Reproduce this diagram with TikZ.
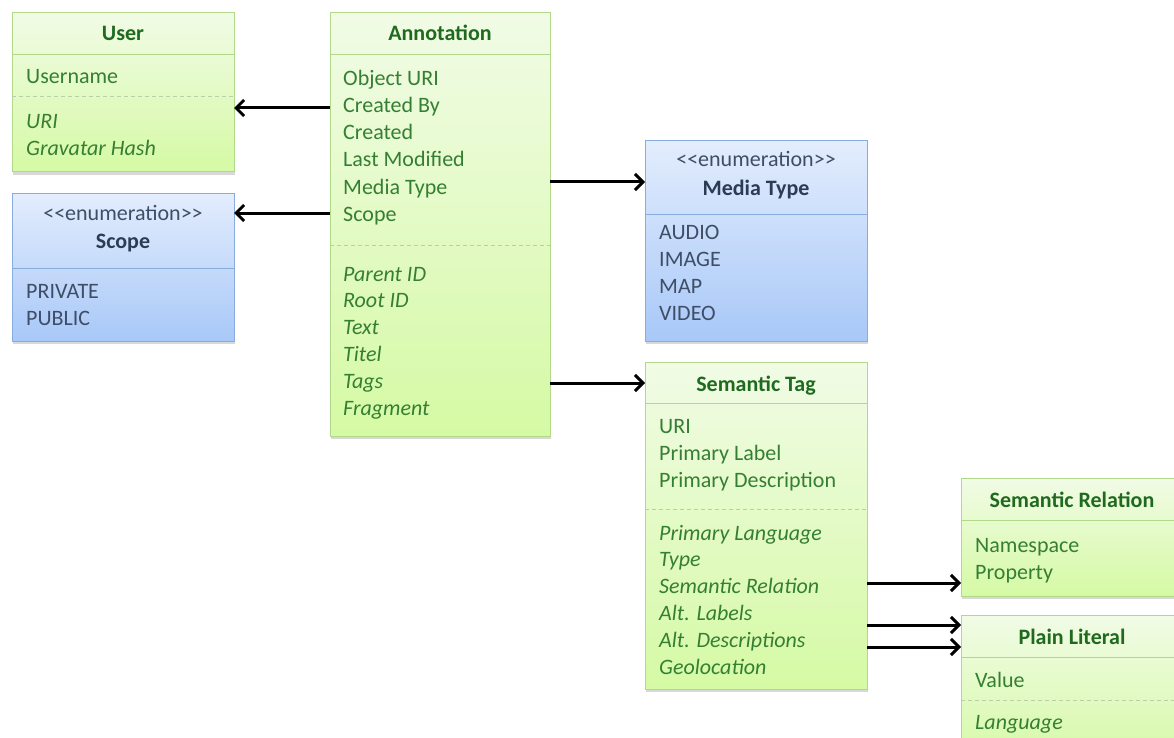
\documentclass[tikz,border=0pt]{standalone}
\usepackage{fontspec}
\setmainfont{Carlito}
\usetikzlibrary{arrows.meta,shadows}

\definecolor{gtop}{HTML}{F1FBE6}
\definecolor{gbot}{HTML}{D5FAA4}
\definecolor{gborder}{HTML}{B2D98A}
\definecolor{gtitle}{HTML}{1F6A1F}
\definecolor{gtext}{HTML}{357F33}
\definecolor{gdash}{HTML}{B9CFA9}
\definecolor{btop}{HTML}{E3EDFD}
\definecolor{bbot}{HTML}{A8C8F8}
\definecolor{bborder}{HTML}{88ACDE}
\definecolor{btitle}{HTML}{2C3C56}
\definecolor{btext}{HTML}{3E4E66}

\tikzset{
  boxbase/.style={anchor=north west, inner sep=0pt, outer sep=0pt, line width=1pt,
    drop shadow={shadow xshift=0.6pt, shadow yshift=-3pt, opacity=0.3, fill=black!50}},
  gbox/.style={boxbase, draw=gborder, top color=gtop, bottom color=gbot},
  bbox/.style={boxbase, draw=bborder, top color=btop, bottom color=bbot},
  txt/.style={inner sep=0pt, anchor=base west, font=\fontsize{22}{27}\selectfont},
  gtitle/.style={txt, anchor=base, text=gtitle, font=\fontsize{22}{27}\selectfont\bfseries},
  gitem/.style={txt, text=gtext},
  gital/.style={txt, text=gtext, font=\fontsize{22}{27}\selectfont\itshape},
  btitle/.style={txt, anchor=base, text=btitle, font=\fontsize{22}{27}\selectfont\bfseries},
  bstereo/.style={txt, anchor=base, text=btext},
  bitem/.style={txt, text=btext},
  gsep/.style={draw=gborder, line width=1pt},
  gdsep/.style={draw=gdash, line width=1pt, dash pattern=on 4pt off 3pt},
  bsep/.style={draw=bborder, line width=1pt},
  conn/.style={line width=3pt, black, -{Straight Barb[length=8pt,width=16pt]}},
}

\begin{document}
\begin{tikzpicture}[x=1pt, y=-1pt]
\clip (0,0) rectangle (1174,738);
\fill[white] (0,0) rectangle (1174,738);

% ---- class boxes ----
\node[gbox, minimum width=222pt, minimum height=159pt] (user) at (12,13) {};
\node[bbox, minimum width=222pt, minimum height=148pt] (scope) at (12,193) {};
\node[gbox, minimum width=220pt, minimum height=423pt] (ann) at (330,13) {};
\node[bbox, minimum width=222pt, minimum height=200pt] (media) at (645,141) {};
\node[gbox, minimum width=222pt, minimum height=327pt] (tag) at (645,362) {};
\node[gbox, minimum width=240pt, minimum height=118pt] (rel) at (961,478) {};
\node[gbox, minimum width=240pt, minimum height=150pt] (lit) at (961,615) {};

% ---- compartments ----
\draw[gsep]  (user.west |- 0,55)  -- (user.east |- 0,55);
\draw[gdsep] (user.west |- 0,97)  -- (user.east |- 0,97);
\draw[bsep]  (scope.west |- 0,268) -- (scope.east |- 0,268);
\draw[gsep]  (ann.west |- 0,55)   -- (ann.east |- 0,55);
\draw[gdsep] (ann.west |- 0,245)  -- (ann.east |- 0,245);
\draw[bsep]  (media.west |- 0,214) -- (media.east |- 0,214);
\draw[gsep]  (tag.west |- 0,403)  -- (tag.east |- 0,403);
\draw[gdsep] (tag.west |- 0,509)  -- (tag.east |- 0,509);
\draw[gsep]  (rel.west |- 0,520)  -- (rel.east |- 0,520);
\draw[gsep]  (lit.west |- 0,657)  -- (lit.east |- 0,657);
\draw[gdsep] (lit.west |- 0,700)  -- (lit.east |- 0,700);

% ---- User ----
\node[gtitle] (user-t) at (123,41) {User};
\node[gitem] (user-a1) at (26,84) {Username};
\foreach \t [count=\i from 0] in {URI,Gravatar Hash}
  \node[gital] (user-b\i) at (26,{129+27*\i}) {\t};

% ---- Scope ----
\node[bstereo] (scope-s) at (123,220) {<{}<enumeration>{}>};
\node[btitle] (scope-t) at (123,248) {Scope};
\foreach \t [count=\i from 0] in {PRIVATE,PUBLIC}
  \node[bitem] (scope-a\i) at (26,{298+27*\i}) {\t};

% ---- Annotation ----
\node[gtitle] (ann-t) at (440,41) {Annotation};
\foreach \t [count=\i from 0] in {Object URI,Created By,Created,Last Modified,Media Type,Scope}
  \node[gitem] (ann-a\i) at (343,{86+27*\i}) {\t};
\foreach \t [count=\i from 0] in {Parent ID,Root ID,Text,Titel,Tags,Fragment}
  \node[gital] (ann-b\i) at (343,{281+26.8*\i}) {\t};

% ---- Media Type ----
\node[bstereo] (media-s) at (756,167) {<{}<enumeration>{}>};
\node[btitle] (media-t) at (756,196) {Media Type};
\foreach \t [count=\i from 0] in {AUDIO,IMAGE,MAP,VIDEO}
  \node[bitem] (media-a\i) at (659,{239+27*\i}) {\t};

% ---- Semantic Tag ----
\node[gtitle] (tag-t) at (756,391) {Semantic Tag};
\foreach \t [count=\i from 0] in {URI,Primary Label,Primary Description}
  \node[gitem] (tag-a\i) at (659,{433+27*\i}) {\t};
\foreach \t [count=\i from 0] in {Primary Language,Type,Semantic Relation,Alt. Labels,Alt. Descriptions,Geolocation}
  \node[gital] (tag-b\i) at (659,{540+26.8*\i}) {\t};

% ---- Semantic Relation ----
\node[gtitle] (rel-t) at (1072,507) {Semantic Relation};
\foreach \t [count=\i from 0] in {Namespace,Property}
  \node[gitem] (rel-a\i) at (975,{552+27*\i}) {\t};

% ---- Plain Literal ----
\node[gtitle] (lit-t) at (1072,644) {Plain Literal};
\node[gitem] (lit-a0) at (975,687) {Value};
\node[gital] (lit-b0) at (975,729) {Language};

% ---- associations ----
\draw[conn] (ann.west |- 0,108) -- (user.east |- 0,108);
\draw[conn] (ann.west |- 0,213) -- (scope.east |- 0,213);
\draw[conn] (ann.east |- 0,182) -- (media.west |- 0,182);
\draw[conn] (ann.east |- 0,383) -- (tag.west |- 0,383);
\draw[conn] (tag.east |- 0,583) -- (rel.west |- 0,583);
\draw[conn] (tag.east |- 0,625) -- (lit.west |- 0,625);
\draw[conn] (tag.east |- 0,647) -- (lit.west |- 0,647);
\end{tikzpicture}
\end{document}
